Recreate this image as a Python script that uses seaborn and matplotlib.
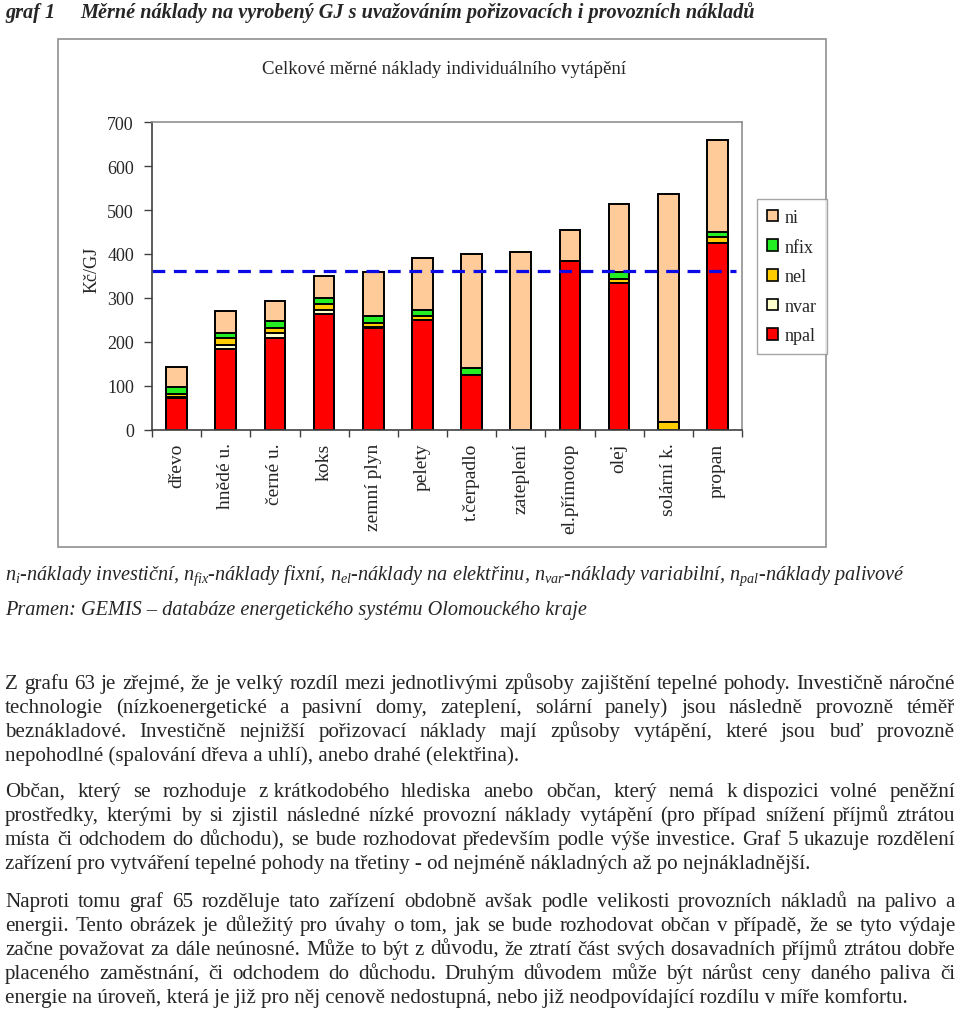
import unicodedata
import numpy as np
import pandas as pd
import matplotlib
matplotlib.use("Agg")
import matplotlib.pyplot as plt
from matplotlib.patches import Patch, Rectangle
import seaborn as sns

# hodnoty (Kc/GJ)
categories = ["dřevo", "hnědé u.", "černé u.", "koks", "zemní plyn", "pelety",
              "t.čerpadlo", "zateplení", "el.přímotop", "olej", "solární k.", "propan"]
npal = [72, 185, 208, 263, 232, 249, 125, 0, 385, 334, 0, 425]
nvar = [3, 9, 13, 10, 3, 2, 0, 0, 0, 0, 0, 0]
nel = [7, 14, 10, 13, 9, 8, 0, 0, 0, 9, 19, 13]
nfix = [16, 13, 17, 13, 15, 13, 17, 0, 0, 15, 0, 13]
ni = [46, 49, 45, 50, 101, 120, 258, 405, 70, 156, 518, 208]
limit = 362

series = ["npal", "nvar", "nel", "nfix", "ni"]
legend_order = ["ni", "nfix", "nel", "nvar", "npal"]
colors = {"ni": "#FFCC99", "nfix": "#22EE22", "nel": "#FFCC00",
          "nvar": "#FFFFCC", "npal": "#FF0000"}

title_num = "graf 1"
title = "Měrné náklady na vyrobený GJ s uvažováním pořizovacích i provozních nákladů"
chart_title = "Celkové měrné náklady individuálního vytápění"
ylabel = "Kč/GJ"
caption1 = ("$n_i$-náklady investiční, $n_{fix}$-náklady fixní, $n_{el}$-náklady na elektřinu, "
            "$n_{var}$-náklady variabilní, $n_{pal}$-náklady palivové")
caption2 = "Pramen: GEMIS – databáze energetického systému Olomouckého kraje"

para1 = [
    "Z grafu 63 je zřejmé, že je velký rozdíl mezi jednotlivými způsoby zajištění tepelné pohody. Investičně náročné",
    "technologie (nízkoenergetické a pasivní domy, zateplení, solární panely) jsou následně provozně téměř",
    "beznákladové. Investičně nejnižší pořizovací náklady mají způsoby vytápění, které jsou buď provozně",
    "nepohodlné (spalování dřeva a uhlí), anebo drahé (elektřina).",
]
para2 = [
    "Občan, který se rozhoduje z\u00a0krátkodobého hlediska anebo občan, který nemá k\u00a0dispozici volné peněžní",
    "prostředky, kterými by si zjistil následné nízké provozní náklady vytápění (pro případ snížení příjmů ztrátou",
    "místa či odchodem do důchodu), se bude rozhodovat především podle výše investice. Graf 5 ukazuje rozdělení",
    "zařízení pro vytváření tepelné pohody na třetiny - od nejméně nákladných až po nejnákladnější.",
]
para3 = [
    "Naproti tomu graf 65 rozděluje tato zařízení obdobně avšak podle velikosti provozních nákladů na palivo a",
    "energii. Tento obrázek je důležitý pro úvahy o tom, jak se bude rozhodovat občan v případě, že se tyto výdaje",
    "začne považovat za dále neúnosné. Může to být z d\u016fvodu, že ztratí část svých dosavadních příjmů ztrátou dobře",
    "placeného zaměstnání, či odchodem do důchodu. Druhým důvodem může být nárůst ceny daného paliva či",
    "energie na úroveň, která je již pro něj cenově nedostupná, nebo již neodpovídající rozdílu v míře komfortu.",
]

df = pd.DataFrame({"kategorie": categories, "npal": npal, "nvar": nvar,
                   "nel": nel, "nfix": nfix, "ni": ni})
cum = df[series].cumsum(axis=1)

sns.set_style("ticks")
plt.rcParams["font.family"] = ["Liberation Serif", "DejaVu Serif"]
plt.rcParams["mathtext.fontset"] = "custom"
plt.rcParams["mathtext.rm"] = "Liberation Serif"
plt.rcParams["mathtext.it"] = "Liberation Serif:italic"

W, H = 960, 1012
fig = plt.figure(figsize=(W / 100, H / 100), dpi=100)
r = fig.canvas.get_renderer()


def fy(y):
    return 1 - y / H


def nfc(s):
    return unicodedata.normalize("NFC", s)


def text_width(s, size, **kw):
    t = fig.text(0, 0, nfc(s), fontsize=size, **kw)
    w = t.get_window_extent(renderer=r).width
    t.remove()
    return w


def fit_size(s, width, **kw):
    return 10 * width / text_width(s, 10, **kw)


def put_line(s, y, size, justify, x0=5, x1=955, **kw):
    s = nfc(s)
    if not justify:
        fig.text(x0 / W, fy(y), s, fontsize=size, va="baseline", **kw)
        return
    words = s.split(" ")
    ts = [fig.text(0, fy(y), w_, fontsize=size, va="baseline", **kw) for w_ in words]
    ws = [t.get_window_extent(renderer=r).width for t in ts]
    gap = (x1 - x0 - sum(ws)) / (len(words) - 1)
    x = x0
    for t, w in zip(ts, ws):
        t.set_x(x / W)
        x += w + gap


# ---- graf ----
ax = fig.add_axes([152 / W, fy(431), 590 / W, 308 / H])
for s in reversed(series):
    part = pd.DataFrame({"kategorie": categories, "hodnota": cum[s]})
    sns.barplot(data=part, x="kategorie", y="hodnota", order=categories,
                color=colors[s], saturation=1, edgecolor="black", linewidth=1.4,
                width=0.42, errorbar=None, ax=ax)
ax.axhline(limit, xmin=0, xmax=0.99, color="#0A0AE6", lw=2.3, dashes=(4, 2.7))

ax.set_xlim(-0.5, 11.5)
ax.set_ylim(0, 700)
ax.set_yticks(range(0, 701, 100))
ax.set_xlabel("")
ax.set_ylabel("")
ax.set_xticks(range(len(categories)))
ax.set_xticklabels(categories, rotation=90, va="top", ha="center", fontsize=14)
ax.set_xticks(np.arange(-0.5, len(categories), 1), minor=True)
ax.tick_params(axis="x", which="major", length=0, pad=9)
ax.tick_params(axis="x", which="minor", length=5, width=1, color="#404040", direction="out")
ax.tick_params(axis="y", length=6, width=1, color="#404040", direction="out", labelsize=13, pad=7)
for sp in ["top", "right"]:
    ax.spines[sp].set_color("#909090")
    ax.spines[sp].set_linewidth(1.2)
for sp in ["left", "bottom"]:
    ax.spines[sp].set_color("#404040")
    ax.spines[sp].set_linewidth(1.2)

handles = [Patch(facecolor=colors[k], edgecolor="black", linewidth=1.2) for k in legend_order]
leg = fig.legend(handles, legend_order, loc="upper left", bbox_to_anchor=(757 / W, fy(200)),
                 frameon=True, fancybox=False, edgecolor="#909090", fontsize=13,
                 handlelength=0.6, handleheight=0.6, handletextpad=0.4,
                 labelspacing=0.7, borderpad=0.55, borderaxespad=0)
leg.get_frame().set_linewidth(1)

fig.add_artist(Rectangle((58 / W, fy(548)), (826 - 58) / W, (548 - 40) / H,
                         transform=fig.transFigure, fill=False, edgecolor="#909090", lw=1.2))
fig.text(444 / W, fy(74), chart_title, ha="center", va="baseline",
         fontsize=fit_size(chart_title, 364))
fig.text(92 / W, fy(270), ylabel, rotation=90, ha="center", va="center", fontsize=13)

# ---- nadpis ----
tsize = fit_size(title, 677, fontweight="bold", fontstyle="italic")
fig.text(5 / W, fy(18), title_num, fontsize=tsize, fontweight="bold", fontstyle="italic", va="baseline")
fig.text(80 / W, fy(18), title, fontsize=tsize, fontweight="bold", fontstyle="italic", va="baseline")

# ---- popisky ----
csize = fit_size(caption1, 900, fontstyle="italic")
put_line(caption1, 580, csize, False, fontstyle="italic")
put_line(caption2, 615, csize, False, fontstyle="italic")

# ---- odstavce ----
bsize = fit_size(para3[-1], 898)
for lines, base in [(para1, 689), (para2, 797), (para3, 907)]:
    for i, line in enumerate(lines):
        put_line(line, base + i * 24, bsize, i < len(lines) - 1)

fig.savefig("out.png", dpi=100)
